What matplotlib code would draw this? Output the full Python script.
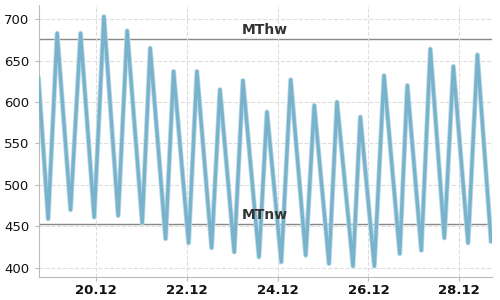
import numpy as np
import pandas as pd
import matplotlib
matplotlib.use("Agg")
import matplotlib.pyplot as plt
import matplotlib.dates as mdates

# water level extremes (cm)
times = ["2023-12-18 17:42", "2023-12-18 22:48", "2023-12-19 03:33", "2023-12-19 10:38",
         "2023-12-19 15:55", "2023-12-19 23:07", "2023-12-20 04:14", "2023-12-20 11:47",
         "2023-12-20 16:32", "2023-12-21 00:29", "2023-12-21 04:42", "2023-12-21 12:50",
         "2023-12-21 17:03", "2023-12-22 00:59", "2023-12-22 05:23", "2023-12-22 13:09",
         "2023-12-22 17:33", "2023-12-23 01:06", "2023-12-23 05:41", "2023-12-23 14:10",
         "2023-12-23 18:23", "2023-12-24 01:57", "2023-12-24 06:55", "2023-12-24 14:50",
         "2023-12-24 19:22", "2023-12-25 03:09", "2023-12-25 07:22", "2023-12-25 15:50",
         "2023-12-25 19:41", "2023-12-26 03:06", "2023-12-26 08:12", "2023-12-26 16:31",
         "2023-12-26 20:31", "2023-12-27 03:55", "2023-12-27 08:41", "2023-12-27 16:05",
         "2023-12-27 20:50", "2023-12-28 04:36", "2023-12-28 09:32", "2023-12-28 16:45"]
levels = [628, 459, 683, 470, 683, 461, 703, 463, 686, 454,
          665, 435, 637, 430, 637, 424, 615, 419, 626, 413,
          588, 407, 627, 415, 596, 405, 600, 402, 582, 402,
          632, 417, 620, 421, 664, 436, 643, 430, 657, 432]

mthw = 676
mtnw = 453
tick_days = ["2023-12-20", "2023-12-22", "2023-12-24", "2023-12-26", "2023-12-28"]

df = pd.DataFrame({"t": pd.to_datetime(times), "level": levels})

fig = plt.figure(figsize=(5, 3), dpi=100)
ax = fig.add_axes([0.077, 0.077, 0.907, 0.906])

ax.plot(df["t"], df["level"], color="#bddbe8", lw=3.6, solid_joinstyle="round", zorder=2)
ax.plot(df["t"], df["level"], color="#79b3cb", lw=2.4, solid_joinstyle="round", zorder=3)

ax.axhline(mthw, color="#888888", lw=1, zorder=1)
ax.axhline(mtnw, color="#888888", lw=1, zorder=1)
ax.text(0.5, mthw + 2, "MThw", transform=ax.get_yaxis_transform(), ha="center", va="bottom",
        fontsize=10, fontweight="bold", color="#333333")
ax.text(0.5, mtnw + 2, "MTnw", transform=ax.get_yaxis_transform(), ha="center", va="bottom",
        fontsize=10, fontweight="bold", color="#333333")

ax.set_xlim(pd.Timestamp("2023-12-18 17:42"), pd.Timestamp("2023-12-28 17:15"))
ax.set_ylim(389, 717)
ax.set_yticks(np.arange(400, 701, 50))
ax.set_xticks(pd.to_datetime(tick_days))
ax.xaxis.set_major_formatter(mdates.DateFormatter("%d.%m"))

ax.grid(True, color="#dddddd", ls="--", lw=0.8, zorder=0)
for s in ["top", "right"]:
    ax.spines[s].set_visible(False)
for s in ["left", "bottom"]:
    ax.spines[s].set_color("#bbbbbb")
ax.tick_params(axis="both", length=3, color="#bbbbbb", labelsize=9.5, labelcolor="#111111")
ax.tick_params(axis="x", pad=2)
for lab in ax.get_xticklabels():
    lab.set_fontweight("bold")

fig.savefig("out.png", dpi=100)
